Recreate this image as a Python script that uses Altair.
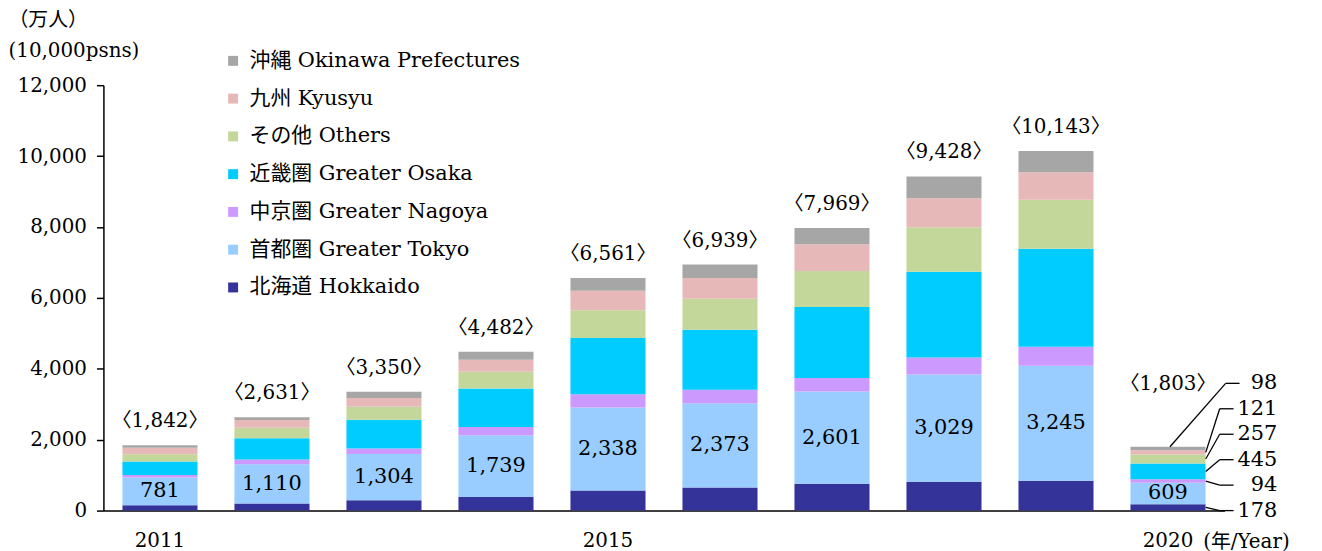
import altair as alt
import pandas as pd

FONT = "DejaVu Serif, Noto Sans CJK JP"

years = [str(y) for y in range(2011, 2021)]
categories = [
    "北海道 Hokkaido",
    "首都圏 Greater Tokyo",
    "中京圏 Greater Nagoya",
    "近畿圏 Greater Osaka",
    "その他 Others",
    "九州 Kyusyu",
    "沖縄 Okinawa Prefectures",
]
colors = ["#333399", "#99CCFF", "#CC99FF", "#00CCFF", "#C4D79B", "#E6B9B8", "#A6A6A6"]

hokkaido = [150, 200, 290, 385, 570, 653, 757, 813, 841, 178]
tokyo = [781, 1110, 1304, 1739, 2338, 2373, 2601, 3029, 3245, 609]
nagoya = [70, 130, 157, 233, 373, 384, 384, 477, 533, 94]
osaka = [385, 600, 815, 1085, 1589, 1690, 2000, 2420, 2765, 445]
others = [205, 300, 364, 476, 785, 878, 1020, 1253, 1385, 257]
kyusyu = [185, 215, 244, 336, 550, 580, 748, 822, 774, 121]
okinawa = [66, 76, 176, 228, 356, 381, 459, 614, 600, 98]
totals = [1842, 2631, 3350, 4482, 6561, 6939, 7969, 9428, 10143, 1803]
y_ticks = [0, 2000, 4000, 6000, 8000, 10000, 12000]

series = [hokkaido, tokyo, nagoya, osaka, others, kyusyu, okinawa]

rows = []
for i, yr in enumerate(years):
    base = 0
    for k, c in enumerate(categories):
        v = series[k][i]
        rows.append(dict(year=yr, cat=c, idx=k, value=v, lo=base, hi=base + v,
                         mid=base + v / 2, txt=f"{v:,}"))
        base += v
df = pd.DataFrame(rows)

tot_df = pd.DataFrame({"year": years, "total": totals,
                       "txt": [f"〈{t:,}〉" for t in totals]})

# side labels for the last year (all but Tokyo), spread evenly upward
side_order = [0, 2, 3, 4, 5, 6]
last = df[df["year"] == years[-1]].set_index("idx")
SPACING = 718
side_rows = []
for j, k in enumerate(side_order):
    r = last.loc[k]
    side_rows.append(dict(year=years[-1], cat=r["cat"], label_y=j * SPACING,
                          anchor=(r["hi"] if k == 6 else r["mid"]),
                          txt=r["txt"], top=(k == 6)))
side_df = pd.DataFrame(side_rows)

x_enc = alt.X(
    "year:N",
    scale=alt.Scale(paddingInner=0.33, paddingOuter=0.17),
    axis=alt.Axis(
        title="(年/Year)", titleX=1106, titleY=31, titleAlign="left",
        titleBaseline="middle", titleFont=FONT, titleFontSize=20,
        titleFontWeight="normal", titleColor="black",
        labelExpr="indexof(['2011','2015','2020'], datum.label) >= 0 ? datum.label : ''",
        labelAngle=0, labelFont=FONT, labelFontSize=20, labelColor="black",
        labelPadding=20, ticks=False, domainColor="black", domainWidth=1.5,
    ),
)

y_scale = alt.Scale(domain=[0, 12000], nice=False)

bars = alt.Chart(df).mark_bar().encode(
    x=x_enc,
    y=alt.Y(
        "lo:Q", scale=y_scale,
        axis=alt.Axis(
            values=y_ticks, format=",.0f",
            title=["（万人）", "(10,000psns)"], titleAngle=0, titleAlign="left",
            titleBaseline="top", titleX=-96, titleY=-76, titleLineHeight=31,
            titleFont=FONT, titleFontSize=20, titleFontWeight="normal",
            titleColor="black",
            labelFont=FONT, labelFontSize=20, labelColor="black", labelPadding=10,
            tickColor="black", tickSize=7, tickWidth=1.5,
            domainColor="black", domainWidth=1.5, grid=False,
        ),
    ),
    y2="hi:Q",
    color=alt.Color(
        "cat:N",
        scale=alt.Scale(domain=categories[::-1], range=colors[::-1]),
        legend=alt.Legend(
            title=None, orient="none", legendX=120, legendY=-35,
            symbolType="square", symbolSize=100, symbolStrokeWidth=0,
            labelFont=FONT, labelFontSize=21, labelColor="black",
            labelOffset=6, rowPadding=16, labelLimit=500,
        ),
    ),
)

tokyo_lbl = alt.Chart(df).transform_filter(alt.datum.idx == 1).mark_text(
    font=FONT, fontSize=21, color="black", baseline="middle"
).encode(x="year:N", y=alt.Y("mid:Q", scale=y_scale), text="txt:N")

tot_main = alt.Chart(tot_df).transform_filter(alt.datum.year != years[-1]).mark_text(
    font=FONT, fontSize=20, color="black", baseline="middle", dy=-24
).encode(x="year:N", y=alt.Y("total:Q", scale=y_scale), text="txt:N")

tot_last = alt.Chart(tot_df).transform_filter(alt.datum.year == years[-1]).mark_text(
    font=FONT, fontSize=20, color="black", baseline="middle", dy=-63
).encode(x="year:N", y=alt.Y("total:Q", scale=y_scale), text="txt:N")

lead_side = alt.Chart(side_df).transform_filter(alt.datum.top == False).mark_rule(
    color="black", strokeWidth=1.3, xOffset=38, x2Offset=52
).encode(x="year:N", x2="year:N", y=alt.Y("anchor:Q", scale=y_scale), y2="label_y:Q")

lead_top = alt.Chart(side_df).transform_filter(alt.datum.top == True).mark_rule(
    color="black", strokeWidth=1.3, xOffset=2, x2Offset=58
).encode(x="year:N", x2="year:N", y=alt.Y("anchor:Q", scale=y_scale), y2="label_y:Q")

lead_h = alt.Chart(side_df).transform_filter(alt.datum.top == False).mark_rule(
    color="black", strokeWidth=1.3, xOffset=52, x2Offset=66
).encode(x="year:N", x2="year:N", y=alt.Y("label_y:Q", scale=y_scale))

lead_h_top = alt.Chart(side_df).transform_filter(alt.datum.top == True).mark_rule(
    color="black", strokeWidth=1.3, xOffset=58, x2Offset=72
).encode(x="year:N", x2="year:N", y=alt.Y("label_y:Q", scale=y_scale))

side_lbl = alt.Chart(side_df).mark_text(
    font=FONT, fontSize=21, color="black", align="right", baseline="middle", dx=110
).encode(x="year:N", y=alt.Y("label_y:Q", scale=y_scale), text="txt:N")

chart = alt.layer(
    bars, tokyo_lbl, tot_main, tot_last, lead_side, lead_top, lead_h, lead_h_top, side_lbl
).properties(
    width=1128, height=428,
    background="white",
    autosize=alt.AutoSizeParams(type="none"),
    padding={"left": 96, "top": 76, "right": 90, "bottom": 42},
).configure_view(strokeWidth=0)

chart.save("out.html", embed_options={"renderer": "svg", "actions": False})
